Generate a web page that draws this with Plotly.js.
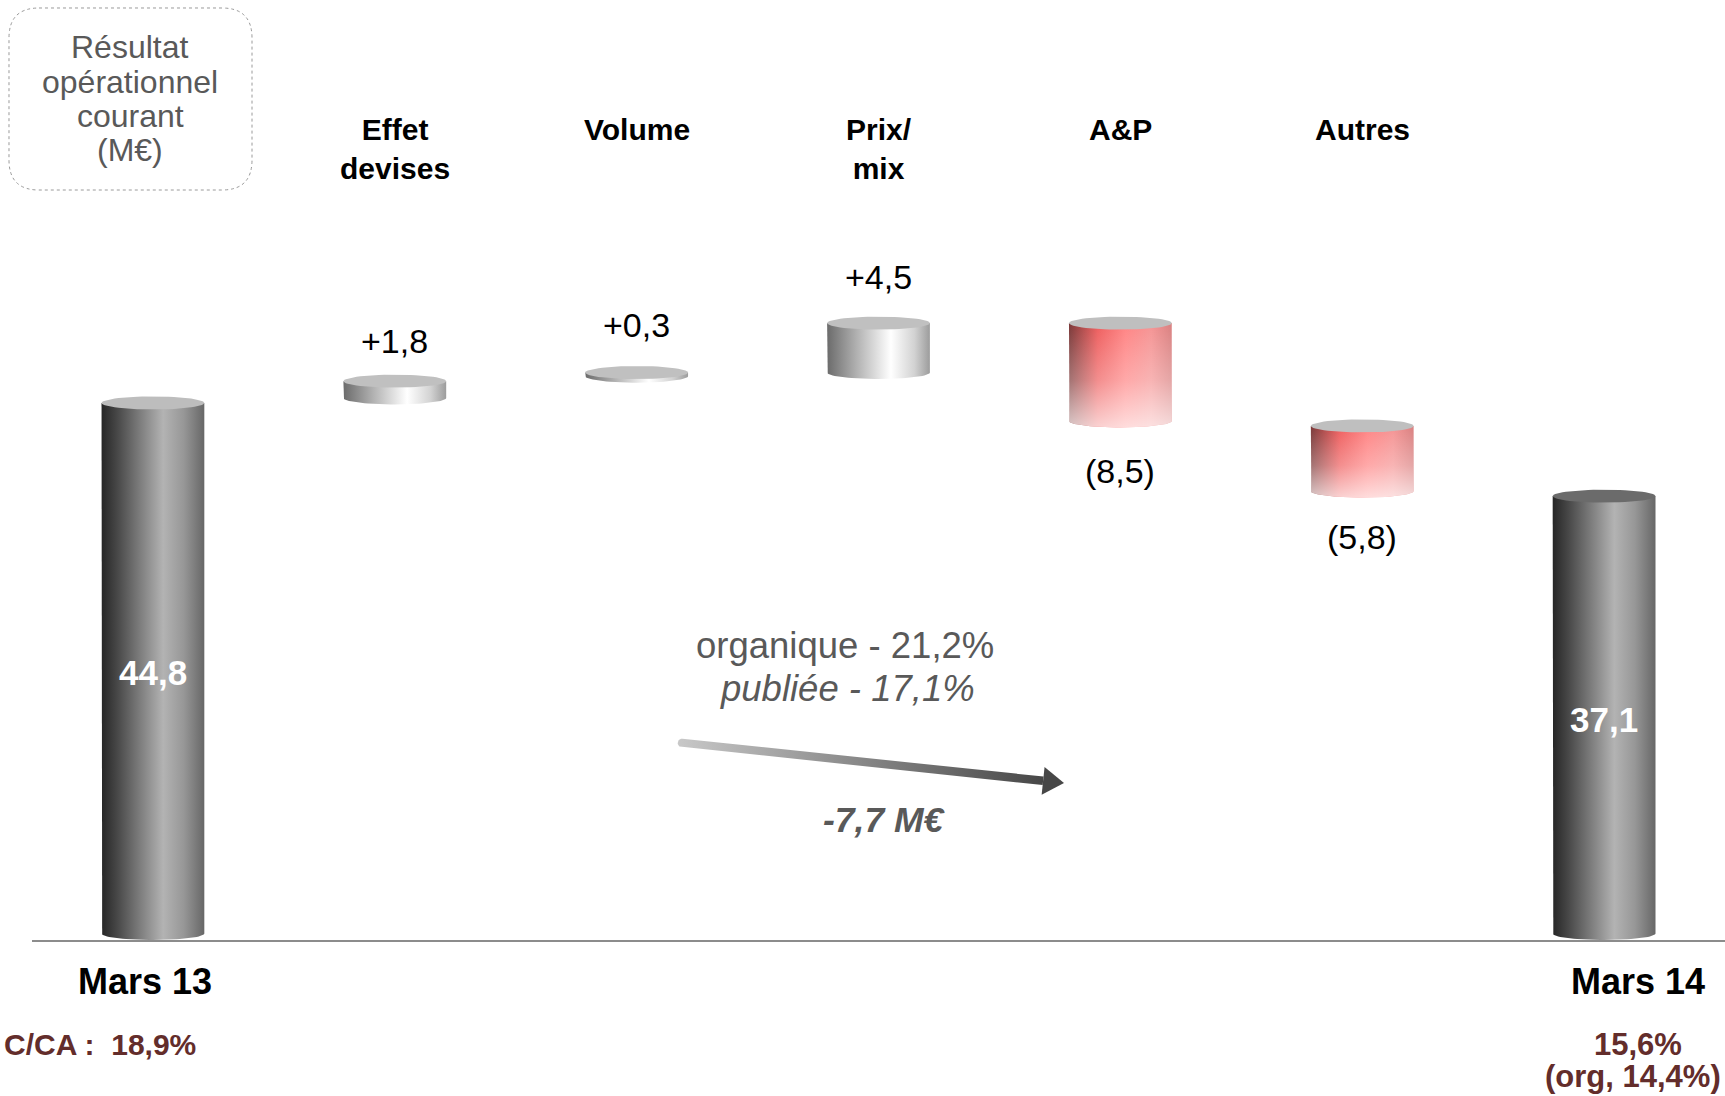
<!DOCTYPE html>
<html>
<head>
<meta charset="utf-8">
<script src="https://cdn.plot.ly/plotly-3.0.1.min.js"></script>
<style>
  html, body { margin: 0; padding: 0; background: #ffffff; }
  #chart { width: 1725px; height: 1096px; }
</style>
</head>
<body>
<div id="chart"></div>
<script>
// ---------------- data ----------------
const categories   = ['Mars 13', 'Effet devises', 'Volume', 'Prix/ mix', 'A&P', 'Autres', 'Mars 14'];
const headerLabels = ['', 'Effet<br>devises', 'Volume', 'Prix/<br>mix', 'A&P', 'Autres', ''];
const values       = [44.8, 1.8, 0.3, 4.5, -8.5, -5.8, 37.1];
const measures     = ['absolute', 'relative', 'relative', 'relative', 'relative', 'relative', 'total'];
const valueLabels  = ['44,8', '+1,8', '+0,3', '+4,5', '(8,5)', '(5,8)', '37,1'];
const boxTitleLines = ['Résultat', 'opérationnel', 'courant', '(M€)'];
const marginLeft   = ['C/CA :\u00a0 18,9%'];
const marginRight  = ['15,6%', '(org, 14,4%)'];
const trendLines   = ['organique - 21,2%', 'publiée - 17,1%', '-7,7 M€'];

// ---------------- layout constants ----------------
const W = 1725, H = 1096;
const ML = 32, MR = 0, MT = 0, MB = 156;
const PW = W - ML - MR, PH = H - MT - MB;
const Y_MAX = 77.69;
const PX_PER_UNIT = PH / Y_MAX;
const HALF_W = 0.2125;
const RY = 6.5 / PX_PER_UNIT;
const TOP_DROP = 5 / PX_PER_UNIT;
const FONT = 'Liberation Sans, Arial, Helvetica, sans-serif';

const labelShiftPx = [-4, 35, 48, 41, -50, -46, -4];
const bottomLabelShiftPx = [-8, 0, 0, 0, 0, 0, 34];

const styles = {
  start: { scale: [[0, '#262626'], [0.15, '#474747'], [0.6, '#b3b3b3'], [0.8, '#979797'], [1, '#676767']], top: '#bdbdbd' },
  total: { scale: [[0, '#262626'], [0.15, '#474747'], [0.6, '#b3b3b3'], [0.8, '#979797'], [1, '#676767']], top: '#6b6b6b' },
  up:    { scale: [[0, '#6b6b6b'], [0.3, '#b4b4b4'], [0.62, '#ffffff'], [0.85, '#d2d2d2'], [1, '#9c9c9c']], top: '#c0c0c0' },
  down:  { scale: [[0, '#7a3838'], [0.28, '#ee5e5e'], [0.55, '#ff8484'], [0.8, '#f59494'], [1, '#d98080']], top: '#bfbfbf' }
};

// ---------------- cumulative levels ----------------
const lows = [], highs = [], kinds = [];
let running = 0;
values.forEach((v, i) => {
  let b, t;
  if (measures[i] === 'absolute') { b = 0; t = v; running = v; kinds.push('start'); }
  else if (measures[i] === 'total') { b = 0; t = running; kinds.push('total'); }
  else { b = running; running += v; t = running; kinds.push(v >= 0 ? 'up' : 'down'); }
  lows.push(Math.min(b, t));
  highs.push(Math.max(b, t));
});

// ---------------- geometry helpers ----------------
function levels(lo, hi) {
  const loC = lo === 0 ? RY : lo;
  const topC = (hi - lo) < 2 * TOP_DROP ? hi : hi - TOP_DROP;
  return { loC, topC };
}
function bodyShape(xc, loC, topC) {
  const xs = [], ys = [];
  xs.push(xc - HALF_W); ys.push(topC);
  const n = 40;
  for (let k = 0; k <= n; k++) {
    const t = Math.PI + Math.PI * k / n;
    xs.push(xc + HALF_W * Math.cos(t));
    ys.push(loC + RY * Math.sin(t));
  }
  xs.push(xc + HALF_W); ys.push(topC);
  xs.push(xc - HALF_W); ys.push(topC);
  return { xs, ys };
}
function ellipse(xc, yc) {
  const xs = [], ys = [];
  const n = 60;
  for (let k = 0; k <= n; k++) {
    const t = 2 * Math.PI * k / n;
    xs.push(xc + HALF_W * Math.cos(t));
    ys.push(yc + RY * Math.sin(t));
  }
  return { xs, ys };
}

const traces = [];
categories.forEach((c, i) => {
  const st = styles[kinds[i]];
  const lv = levels(lows[i], highs[i]);
  const body = bodyShape(i, lv.loC, lv.topC);
  traces.push({
    type: 'scatter', mode: 'lines', x: body.xs, y: body.ys, fill: 'toself',
    line: { width: 0, color: 'rgba(0,0,0,0)' },
    fillgradient: { type: 'horizontal', colorscale: st.scale, start: i - HALF_W, stop: i + HALF_W },
    hoverinfo: 'skip', name: c
  });
  if (kinds[i] === 'down') {
    traces.push({
      type: 'scatter', mode: 'lines', x: body.xs, y: body.ys, fill: 'toself',
      line: { width: 0, color: 'rgba(0,0,0,0)' },
      fillgradient: { type: 'vertical', colorscale: [[0, 'rgba(255,255,255,0.72)'], [0.45, 'rgba(255,255,255,0.3)'], [1, 'rgba(255,255,255,0)']],
                      start: lv.loC - RY, stop: lv.topC },
      hoverinfo: 'skip'
    });
  }
  const el = ellipse(i, lv.topC);
  traces.push({
    type: 'scatter', mode: 'lines', x: el.xs, y: el.ys, fill: 'toself',
    line: { width: 0, color: 'rgba(0,0,0,0)' }, fillcolor: st.top, hoverinfo: 'skip'
  });
});

// ---------------- trend arrow (decoration, pixel overlay axes) ----------------
const A_START = [682, 743], A_TIP = [1064, 783];
const HEAD_LEN = 21, HEAD_HALF = 14, SHAFT_HALF = 4.3;
(function () {
  const dx = A_TIP[0] - A_START[0], dy = A_TIP[1] - A_START[1];
  const L = Math.hypot(dx, dy);
  const d = [dx / L, dy / L], nrm = [-d[1], d[0]];
  const B = [A_TIP[0] - HEAD_LEN * d[0], A_TIP[1] - HEAD_LEN * d[1]];
  const xs = [], ys = [];
  xs.push(B[0] + nrm[0] * SHAFT_HALF); ys.push(B[1] + nrm[1] * SHAFT_HALF);
  const ang0 = Math.atan2(nrm[1], nrm[0]);
  for (let k = 0; k <= 20; k++) {
    const a = ang0 + Math.PI * k / 20;
    xs.push(A_START[0] + SHAFT_HALF * Math.cos(a)); ys.push(A_START[1] + SHAFT_HALF * Math.sin(a));
  }
  xs.push(B[0] - nrm[0] * SHAFT_HALF); ys.push(B[1] - nrm[1] * SHAFT_HALF);
  xs.push(xs[0]); ys.push(ys[0]);
  traces.push({
    type: 'scatter', mode: 'lines', x: xs, y: ys, xaxis: 'x2', yaxis: 'y2', fill: 'toself',
    line: { width: 0, color: 'rgba(0,0,0,0)' },
    fillgradient: { type: 'horizontal', colorscale: [[0, '#c8c8c8'], [1, '#474747']], start: A_START[0] - 4, stop: B[0] },
    hoverinfo: 'skip'
  });
  traces.push({
    type: 'scatter', mode: 'lines', xaxis: 'x2', yaxis: 'y2', fill: 'toself',
    x: [B[0] + nrm[0] * HEAD_HALF, A_TIP[0], B[0] - nrm[0] * HEAD_HALF, B[0] + nrm[0] * HEAD_HALF],
    y: [B[1] + nrm[1] * HEAD_HALF, A_TIP[1], B[1] - nrm[1] * HEAD_HALF, B[1] + nrm[1] * HEAD_HALF],
    line: { width: 0, color: 'rgba(0,0,0,0)' }, fillcolor: '#474747', hoverinfo: 'skip'
  });
})();

// ---------------- annotations ----------------
const py2paper = py => (PH - py) / PH;
const px2paper = px => (px - ML) / PW;
const annotations = [];
function txt(o) {
  annotations.push(Object.assign({ showarrow: false, xanchor: 'center', yanchor: 'middle' }, o));
}

// header labels
headerLabels.forEach((t, i) => {
  if (!t) return;
  const nLines = t.split('<br>').length;
  txt({ text: t, x: i, xref: 'x', yref: 'paper', y: py2paper(129 + (nLines - 1) * 19.5),
        font: { family: FONT, size: 30, color: '#000000', weight: 'bold' } });
});

// value labels
valueLabels.forEach((t, i) => {
  if (kinds[i] === 'start' || kinds[i] === 'total') {
    txt({ text: t, x: i, xref: 'x', yref: 'y', y: (lows[i] + highs[i]) / 2, yshift: labelShiftPx[i],
          font: { family: FONT, size: 35, color: '#ffffff', weight: 'bold' } });
  } else if (kinds[i] === 'up') {
    txt({ text: t, x: i, xref: 'x', yref: 'y', y: highs[i], yshift: labelShiftPx[i],
          font: { family: FONT, size: 34, color: '#000000' } });
  } else {
    txt({ text: t, x: i, xref: 'x', yref: 'y', y: lows[i], yshift: labelShiftPx[i],
          font: { family: FONT, size: 34, color: '#000000' } });
  }
});

// bottom category labels
[0, 6].forEach(i => {
  txt({ text: categories[i], x: i, xref: 'x', xshift: bottomLabelShiftPx[i], yref: 'paper', y: py2paper(981),
        font: { family: FONT, size: 36, color: '#000000', weight: 'bold' } });
});

// margin texts
const BROWN = '#632d2b';
txt({ text: marginLeft[0], xref: 'paper', x: px2paper(2), xanchor: 'left', yref: 'paper', y: py2paper(1044),
      font: { family: FONT, size: 30, color: BROWN, weight: 'bold' } });
txt({ text: marginRight[0], xref: 'paper', x: px2paper(1638), yref: 'paper', y: py2paper(1044),
      font: { family: FONT, size: 31, color: BROWN, weight: 'bold' } });
txt({ text: marginRight[1], xref: 'paper', x: px2paper(1633), yref: 'paper', y: py2paper(1076),
      font: { family: FONT, size: 31, color: BROWN, weight: 'bold' } });

// box title
const boxLineY = [47, 82, 116, 150];
boxTitleLines.forEach((t, k) => {
  txt({ text: t, xref: 'paper', x: px2paper(130), yref: 'paper', y: py2paper(boxLineY[k]),
        font: { family: FONT, size: 32, color: '#595959' } });
});

// trend texts
txt({ text: trendLines[0], xref: 'paper', x: px2paper(845), yref: 'paper', y: py2paper(645),
      font: { family: FONT, size: 36.5, color: '#595959' } });
txt({ text: trendLines[1], xref: 'paper', x: px2paper(847), yref: 'paper', y: py2paper(688),
      font: { family: FONT, size: 36.5, color: '#595959', style: 'italic' } });
txt({ text: trendLines[2], xref: 'paper', x: px2paper(884), yref: 'paper', y: py2paper(820),
      font: { family: FONT, size: 35.5, color: '#595959', style: 'italic', weight: 'bold' } });

// rounded dotted box
const BX0 = 9, BX1 = 252, BY0 = 8, BY1 = 190, BR = 30;
function P(px, py) { return px2paper(px).toFixed(5) + ',' + py2paper(py).toFixed(5); }
const boxPath = 'M' + P(BX0 + BR, BY0) + ' L' + P(BX1 - BR, BY0) + ' Q' + P(BX1, BY0) + ' ' + P(BX1, BY0 + BR) +
  ' L' + P(BX1, BY1 - BR) + ' Q' + P(BX1, BY1) + ' ' + P(BX1 - BR, BY1) +
  ' L' + P(BX0 + BR, BY1) + ' Q' + P(BX0, BY1) + ' ' + P(BX0, BY1 - BR) +
  ' L' + P(BX0, BY0 + BR) + ' Q' + P(BX0, BY0) + ' ' + P(BX0 + BR, BY0) + ' Z';

const layout = {
  width: W, height: H,
  margin: { l: ML, r: MR, t: MT, b: MB, pad: 0 },
  paper_bgcolor: '#ffffff', plot_bgcolor: '#ffffff',
  showlegend: false,
  xaxis: { range: [-0.5, 6.5], showline: true, linecolor: '#8c8c8c', linewidth: 2, showgrid: false,
           zeroline: false, showticklabels: false, ticks: '', tickvals: categories.map((c, i) => i), ticktext: categories,
           fixedrange: true },
  yaxis: { range: [0, Y_MAX], showgrid: false, zeroline: false, showticklabels: false, ticks: '', showline: false, fixedrange: true },
  xaxis2: { overlaying: 'x', anchor: 'y2', range: [ML, W], visible: false, fixedrange: true },
  yaxis2: { overlaying: 'y', anchor: 'x2', range: [PH, 0], visible: false, fixedrange: true },
  annotations: annotations,
  shapes: [{ type: 'path', xref: 'paper', yref: 'paper', path: boxPath,
             line: { color: '#9a9a9a', width: 1, dash: 'dot' }, fillcolor: 'rgba(0,0,0,0)' }]
};

Plotly.newPlot('chart', traces, layout, { displayModeBar: false, staticPlot: true });
</script>
</body>
</html>
